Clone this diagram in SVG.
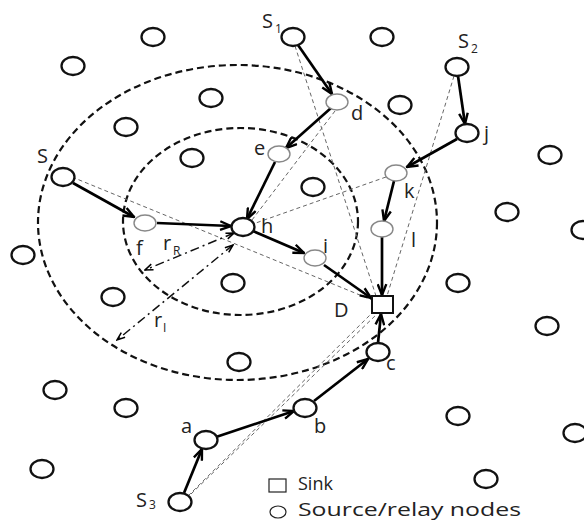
<svg xmlns="http://www.w3.org/2000/svg" width="584" height="522" viewBox="0 0 584 522">
<defs>
<marker id="ah" viewBox="0 0 12 10" refX="11" refY="5" markerWidth="13" markerHeight="11" markerUnits="userSpaceOnUse" orient="auto"><path d="M1,1 L11,5 L1,9" fill="none" stroke="#000" stroke-width="2.2"/></marker>
<marker id="ahs" viewBox="0 0 10 8" refX="9" refY="4" markerWidth="10" markerHeight="8" markerUnits="userSpaceOnUse" orient="auto-start-reverse"><path d="M1,1 L9,4 L1,7" fill="none" stroke="#000" stroke-width="1.5"/></marker>
</defs>
<style>
.plain{fill:#fff;stroke:#111;stroke-width:2.3}
.relay{fill:#fff;stroke:#888;stroke-width:1.4}
.range{fill:none;stroke:#111;stroke-width:2.2;stroke-dasharray:7 4}
.hop{stroke:#000;stroke-width:2.7;fill:none;marker-end:url(#ah)}
.direct{stroke:#666;stroke-width:1;fill:none;stroke-dasharray:4 3}
.radius{stroke:#111;stroke-width:1.5;fill:none;stroke-dasharray:9 4 2 4;marker-start:url(#ahs);marker-end:url(#ahs)}
.lbl{font-family:"Open Sans","DejaVu Sans",sans-serif;font-size:20px;fill:#222}
.leg{font-family:"Open Sans","DejaVu Sans",sans-serif;font-size:18px;fill:#222}
.sub{font-family:"Open Sans","DejaVu Sans",sans-serif;font-size:12px;fill:#222}
</style>
<rect width="584" height="522" fill="#fff"/>
<g id="ranges">
<ellipse class="range" cx="237.5" cy="222.5" rx="199.5" ry="157.5"/>
<ellipse class="range" cx="240.5" cy="221.5" rx="117.5" ry="93.5"/>
</g>
<g id="connectors">
<line class="direct" x1="295" y1="46" x2="376" y2="296"/>
<line class="direct" x1="454" y1="76" x2="387" y2="296"/>
<line class="direct" x1="72" y1="177" x2="372" y2="300"/>
<line class="direct" x1="335" y1="111" x2="252" y2="220"/>
<line class="direct" x1="386" y1="177" x2="253" y2="224"/>
<line class="direct" x1="188" y1="496" x2="372" y2="313"/>
<line class="direct" x1="191" y1="494" x2="377" y2="314"/>
<line class="radius" x1="234" y1="233" x2="145" y2="270"/>
<line class="radius" x1="233" y1="245" x2="117" y2="340"/>
<line class="hop" x1="298" y1="45" x2="332" y2="94"/>
<line class="hop" x1="331" y1="108" x2="286" y2="148"/>
<line class="hop" x1="275" y1="162" x2="247" y2="219"/>
<line class="hop" x1="73" y1="183" x2="134" y2="217"/>
<line class="hop" x1="157" y1="223" x2="231" y2="226"/>
<line class="hop" x1="253" y1="231" x2="304" y2="253"/>
<line class="hop" x1="324" y1="265" x2="371" y2="298"/>
<line class="hop" x1="458" y1="76" x2="465" y2="124"/>
<line class="hop" x1="457" y1="139" x2="407" y2="167"/>
<line class="hop" x1="394" y1="181" x2="384" y2="221"/>
<line class="hop" x1="382" y1="237" x2="382" y2="295"/>
<line class="hop" x1="184" y1="493" x2="202" y2="449"/>
<line class="hop" x1="216" y1="437" x2="294" y2="411"/>
<line class="hop" x1="314" y1="401" x2="368" y2="359"/>
<line class="hop" x1="378" y1="343" x2="381" y2="314"/>
</g>
<g id="other-nodes">
<ellipse class="plain" cx="153" cy="37" rx="11.5" ry="9"/>
<ellipse class="plain" cx="73" cy="66" rx="11.5" ry="9"/>
<ellipse class="plain" cx="126" cy="127" rx="11.5" ry="9"/>
<ellipse class="plain" cx="211" cy="98" rx="11.5" ry="9"/>
<ellipse class="plain" cx="192" cy="158" rx="11.5" ry="9"/>
<ellipse class="plain" cx="382" cy="37" rx="11.5" ry="9"/>
<ellipse class="plain" cx="400" cy="105" rx="11.5" ry="9"/>
<ellipse class="plain" cx="550" cy="155" rx="11.5" ry="9"/>
<ellipse class="plain" cx="507" cy="212" rx="11.5" ry="9"/>
<ellipse class="plain" cx="583" cy="230" rx="11.5" ry="9"/>
<ellipse class="plain" cx="23" cy="255" rx="11.5" ry="9"/>
<ellipse class="plain" cx="113" cy="297" rx="11.5" ry="9"/>
<ellipse class="plain" cx="313" cy="187" rx="11.5" ry="9"/>
<ellipse class="plain" cx="233" cy="283" rx="11.5" ry="9"/>
<ellipse class="plain" cx="458" cy="283" rx="11.5" ry="9"/>
<ellipse class="plain" cx="547" cy="326" rx="11.5" ry="9"/>
<ellipse class="plain" cx="55" cy="390" rx="11.5" ry="9"/>
<ellipse class="plain" cx="126" cy="408" rx="11.5" ry="9"/>
<ellipse class="plain" cx="42" cy="469" rx="11.5" ry="9"/>
<ellipse class="plain" cx="239" cy="362" rx="11.5" ry="9"/>
<ellipse class="plain" cx="458" cy="416" rx="11.5" ry="9"/>
<ellipse class="plain" cx="575" cy="433" rx="11.5" ry="9"/>
<ellipse class="plain" cx="486" cy="479" rx="11.5" ry="9"/>
</g>
<g id="node-S1"><ellipse class="plain" cx="293" cy="37" rx="11.5" ry="9"/><text class="lbl" x="262" y="28">S</text><text class="sub" x="275" y="33">1</text></g>
<g id="node-S2"><ellipse class="plain" cx="457" cy="67" rx="11.5" ry="9"/><text class="lbl" x="458" y="48">S</text><text class="sub" x="471" y="53">2</text></g>
<g id="node-S"><ellipse class="plain" cx="63" cy="177" rx="11.5" ry="9"/><text class="lbl" x="37" y="163">S</text></g>
<g id="node-S3"><ellipse class="plain" cx="180" cy="502" rx="11.5" ry="9"/><text class="lbl" x="136" y="507">S</text><text class="sub" x="149" y="509">3</text></g>
<g id="node-d"><ellipse class="relay" cx="337" cy="102" rx="11" ry="8"/><text class="lbl" x="351" y="120">d</text></g>
<g id="node-e"><ellipse class="relay" cx="279" cy="154" rx="11" ry="8"/><text class="lbl" x="254" y="155">e</text></g>
<g id="node-j"><ellipse class="plain" cx="467" cy="133" rx="11.5" ry="9"/><text class="lbl" x="484" y="140">j</text></g>
<g id="node-k"><ellipse class="relay" cx="396" cy="173" rx="11" ry="8"/><text class="lbl" x="404" y="198">k</text></g>
<g id="node-l"><ellipse class="relay" cx="382" cy="229" rx="11" ry="8"/><text class="lbl" x="411" y="247">l</text></g>
<g id="node-f"><ellipse class="relay" cx="145" cy="223" rx="11" ry="8"/><text class="lbl" x="136" y="255">f</text></g>
<g id="node-h"><ellipse class="plain" cx="243" cy="227" rx="11.5" ry="9"/><text class="lbl" x="261" y="233">h</text></g>
<g id="node-i"><ellipse class="relay" cx="315" cy="258" rx="11" ry="8"/><text class="lbl" x="323" y="253">i</text></g>
<g id="node-D"><rect x="372" y="296" width="21" height="17" fill="#fff" stroke="#111" stroke-width="2"/><text class="lbl" x="334" y="317">D</text></g>
<g id="node-c"><ellipse class="plain" cx="378" cy="352" rx="11.5" ry="9"/><text class="lbl" x="386" y="370">c</text></g>
<g id="node-b"><ellipse class="plain" cx="305" cy="408" rx="11.5" ry="9"/><text class="lbl" x="314" y="433">b</text></g>
<g id="node-a"><ellipse class="plain" cx="206" cy="440" rx="11.5" ry="9"/><text class="lbl" x="181" y="433">a</text></g>
<g id="radius-labels">
<text class="lbl" x="163" y="250">r</text><text class="sub" x="173" y="255">R</text>
<text class="lbl" x="154" y="327">r</text><text class="sub" x="163" y="332">I</text>
</g>
<g id="legend">
<rect x="269" y="479" width="17" height="13" fill="#fff" stroke="#222" stroke-width="1.2"/>
<text class="leg" x="298" y="490">Sink</text>
<ellipse cx="278" cy="512" rx="8" ry="6" fill="#fff" stroke="#222" stroke-width="1.2"/>
<text class="leg" x="298" y="516" textLength="223" lengthAdjust="spacingAndGlyphs">Source/relay nodes</text>
</g>
</svg>
